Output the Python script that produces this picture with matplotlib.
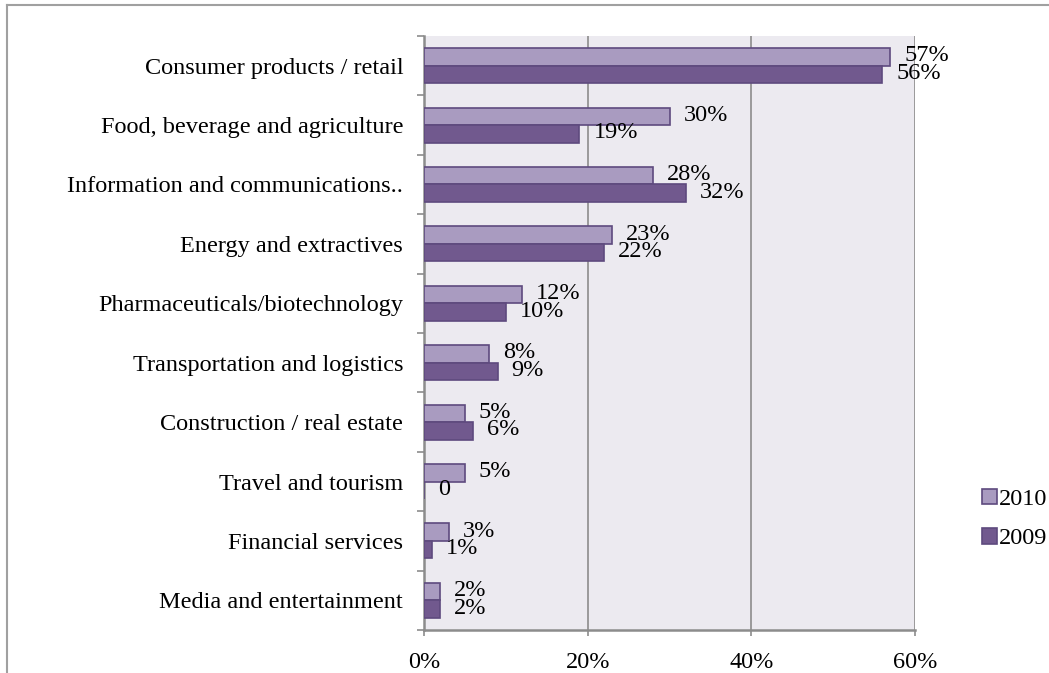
import matplotlib
matplotlib.use("Agg")
import matplotlib.pyplot as plt
from matplotlib.lines import Line2D
import numpy as np

plt.rcParams["font.family"] = ["Liberation Serif", "DejaVu Serif"]

# data, top to bottom as in the chart
categories = [
    "Consumer products / retail",
    "Food, beverage and agriculture",
    "Information and communications..",
    "Energy and extractives",
    "Pharmaceuticals/biotechnology",
    "Transportation and logistics",
    "Construction / real estate",
    "Travel and tourism",
    "Financial services",
    "Media and entertainment",
]
values_2010 = [57, 30, 28, 23, 12, 8, 5, 5, 3, 2]
values_2009 = [56, 19, 32, 22, 10, 9, 6, 0, 1, 2]
xticks = [0, 20, 40, 60]

C2010 = "#A99BC0"
C2009 = "#71598E"
EDGE = "#5E4A7E"
BG = "#ECEAF0"
GRID = "#8C8C8C"
FS = 17.5

fig = plt.figure(figsize=(10.49, 6.73), dpi=100)
fig.patch.set_facecolor("white")
ax = fig.add_axes([424 / 1049, 1 - 630 / 673, (915 - 424) / 1049, (630 - 36) / 673])
ax.set_facecolor(BG)

n = len(categories)
y = np.arange(n)
h = 0.295
ax.barh(y - h / 2, values_2010, height=h, color=C2010, edgecolor=EDGE, linewidth=1.2, label="2010", zorder=3)
ax.barh(y + h / 2, values_2009, height=h, color=C2009, edgecolor=EDGE, linewidth=1.2, label="2009", zorder=3)

def fmt(v):
    return f"{v}%" if v else "0"

for yi, v in zip(y, values_2010):
    ax.annotate(fmt(v), (v, yi - h / 2), xytext=(14, 1), textcoords="offset pixels",
                ha="left", va="center", fontsize=FS, zorder=4)
for yi, v in zip(y, values_2009):
    ax.annotate(fmt(v), (v, yi + h / 2), xytext=(14, 1), textcoords="offset pixels",
                ha="left", va="center", fontsize=FS, zorder=4)

ax.set_xlim(0, 60)
ax.set_ylim(n - 0.5, -0.5)
ax.set_xticks(xticks)
ax.set_xticklabels([f"{t}%" for t in xticks], fontsize=FS)
ax.set_yticks(y)
ax.set_yticklabels(categories, fontsize=FS)
ax.set_yticks(np.arange(n + 1) - 0.5, minor=True)
ax.tick_params(axis="y", which="major", length=0, pad=15)
ax.tick_params(axis="y", which="minor", length=5, color=GRID, width=1.2)
ax.tick_params(axis="x", length=4, color=GRID, width=1.2, pad=12)
ax.xaxis.grid(True, color=GRID, linewidth=1.2, zorder=0)

for s in ["top", "right"]:
    ax.spines[s].set_visible(False)
for s in ["left", "bottom"]:
    ax.spines[s].set_color(GRID)
    ax.spines[s].set_linewidth(1.8)

leg = fig.legend(*ax.get_legend_handles_labels(), loc="center left",
                 bbox_to_anchor=(982 / 1049, 1 - 519 / 673), frameon=False,
                 fontsize=FS, handlelength=0.6, handleheight=0.6, handletextpad=0.1,
                 labelspacing=0.75, borderaxespad=0, borderpad=0)

# outer frame (top and left edges visible)
fig.add_artist(Line2D([7 / 1049, 1], [1 - 5 / 673, 1 - 5 / 673], color="#A0A0A0", linewidth=1.5))
fig.add_artist(Line2D([7 / 1049, 7 / 1049], [0, 1 - 5 / 673], color="#A0A0A0", linewidth=1.5))

fig.savefig("out.png", dpi=100)
